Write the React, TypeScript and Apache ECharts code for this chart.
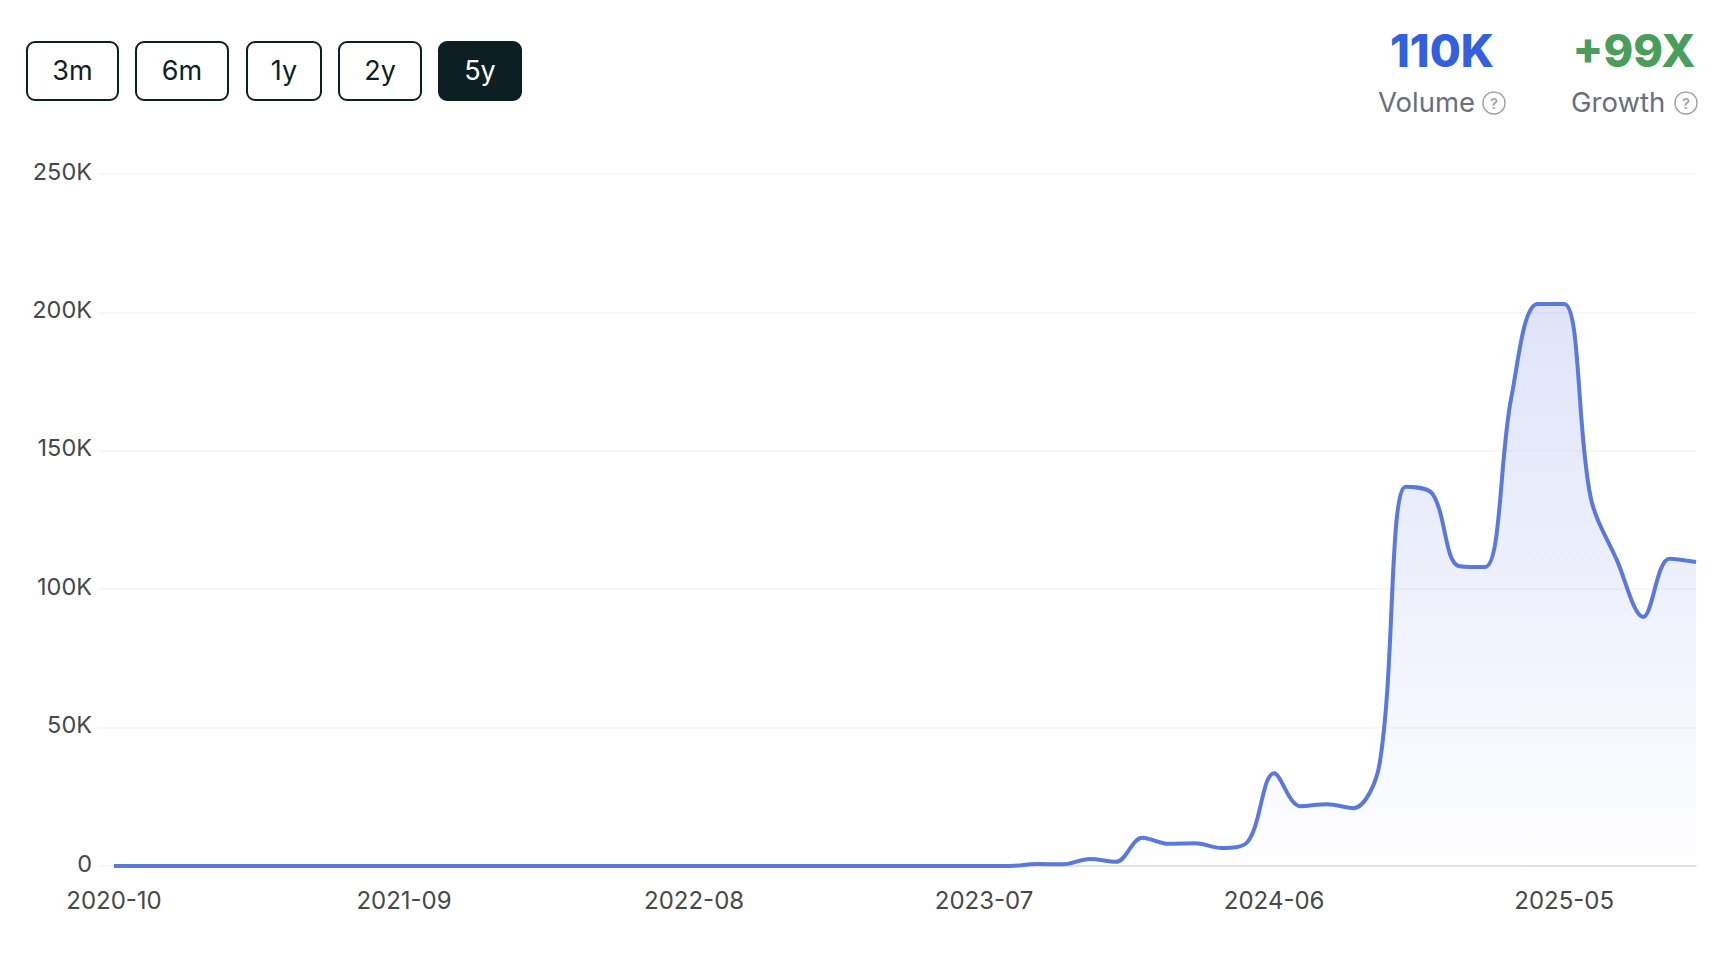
import React, { useEffect, useRef } from "react";
import * as echarts from "echarts";

const months: string[] = [
  "2020-10","2020-11","2020-12","2021-01","2021-02","2021-03","2021-04","2021-05","2021-06","2021-07","2021-08","2021-09",
  "2021-10","2021-11","2021-12","2022-01","2022-02","2022-03","2022-04","2022-05","2022-06","2022-07","2022-08","2022-09",
  "2022-10","2022-11","2022-12","2023-01","2023-02","2023-03","2023-04","2023-05","2023-06","2023-07","2023-08","2023-09",
  "2023-10","2023-11","2023-12","2024-01","2024-02","2024-03","2024-04","2024-05","2024-06","2024-07","2024-08","2024-09",
  "2024-10","2024-11","2024-12","2025-01","2025-02","2025-03","2025-04","2025-05","2025-06","2025-07","2025-08","2025-09","2025-10",
];
const volume: number[] = [
  0,0,0,0,0,0,0,0,0,0,0,0,
  0,0,0,0,0,0,0,0,0,0,0,0,
  0,0,0,0,0,0,0,0,0,0,0,700,
  600,2500,1500,10200,8000,8200,6500,8800,33500,21600,22300,20900,
  37000,137000,134500,108400,108000,169500,203000,203000,133400,110500,90000,111000,109800,
];
const rangeButtons = ["3m", "6m", "1y", "2y", "5y"];
const activeRange = "5y";
const stats = [
  { value: "110K", label: "Volume", color: "#3360dc" },
  { value: "+99X", label: "Growth", color: "#4a9d5b" },
];

const FONT = "Inter, 'Noto Sans', sans-serif";
const DARK = "#0d1f22";
const btnBox = [
  { x: 27, w: 91 }, { x: 136, w: 92 }, { x: 247, w: 74 }, { x: 339, w: 82 }, { x: 439, w: 82 },
];
const statBox = [
  { cx: 1442, lx: 1378, q: 1494 },
  { cx: 1634, lx: 1571, q: 1686 },
];

export default function App() {
  const ref = useRef<HTMLDivElement>(null);
  useEffect(() => {
    const chart = echarts.init(ref.current!, undefined, { renderer: "svg" });
    const graphic: any[] = [];
    rangeButtons.forEach((b, i) => {
      const on = b === activeRange;
      graphic.push({
        type: "rect",
        shape: { x: btnBox[i].x, y: 42, width: btnBox[i].w, height: 58, r: 8 },
        style: { fill: on ? DARK : "#fff", stroke: DARK, lineWidth: 2 },
      });
      graphic.push({
        type: "text",
        x: btnBox[i].x + btnBox[i].w / 2,
        y: 70,
        style: { text: b, fill: on ? "#fff" : DARK, font: `400 27px ${FONT}`, textAlign: "center", textVerticalAlign: "middle" },
      });
    });
    stats.forEach((s, i) => {
      graphic.push({
        type: "text", x: statBox[i].cx, y: 50,
        style: { text: s.value, fill: s.color, font: `800 45px ${FONT}`, textAlign: "center", textVerticalAlign: "middle" },
      });
      graphic.push({
        type: "text", x: statBox[i].lx, y: 102,
        style: { text: s.label, fill: "#6b6e7b", font: `400 27.5px ${FONT}`, textAlign: "left", textVerticalAlign: "middle" },
      });
      graphic.push({
        type: "circle", shape: { cx: statBox[i].q, cy: 103, r: 11 },
        style: { fill: "none", stroke: "#a0a1a6", lineWidth: 1.5 },
      });
      graphic.push({
        type: "text", x: statBox[i].q, y: 103,
        style: { text: "?", fill: "#a0a1a6", font: `500 15px ${FONT}`, textAlign: "center", textVerticalAlign: "middle" },
      });
    });

    chart.setOption({
      animation: false,
      backgroundColor: "#fff",
      grid: [
        { left: 98, right: 20, top: 174, bottom: 88 },
        { left: 114, right: 20, top: 174, bottom: 88 },
      ],
      xAxis: [
        { gridIndex: 0, type: "value", min: 0, max: 1, show: false },
        {
          gridIndex: 1, type: "category", data: months, boundaryGap: false,
          axisLine: { show: true, lineStyle: { color: "#dcdcdc", width: 1.5 } },
          axisTick: { show: false },
          axisLabel: { interval: 10, margin: 22, color: "#484848", fontFamily: FONT, fontSize: 24, hideOverlap: false },
        },
      ],
      yAxis: [
        {
          gridIndex: 0, type: "value", min: 0, max: 250000, interval: 50000,
          axisLine: { show: false }, axisTick: { show: false },
          splitLine: { show: true, lineStyle: { color: "#f5f5f6", width: 1.5 } },
          axisLabel: {
            margin: 6, color: "#484848", fontFamily: FONT, fontSize: 23.5, verticalAlign: "bottom", lineHeight: 6,
            formatter: (v: number) => (v === 0 ? "0" : `${v / 1000}K`),
          },
        },
        { gridIndex: 1, type: "value", min: 0, max: 250000, show: false },
      ],
      series: [
        {
          type: "line", xAxisIndex: 1, yAxisIndex: 1, data: volume, smooth: 0.35, showSymbol: false,
          lineStyle: { color: "#5b78dc", width: 4 },
          itemStyle: { color: "#5b78dc" },
          areaStyle: {
            color: new echarts.graphic.LinearGradient(0, 0, 0, 1, [
              { offset: 0, color: "rgba(75,105,220,0.26)" },
              { offset: 1, color: "rgba(75,105,220,0.01)" },
            ]),
          },
        },
      ],
      graphic,
    });
    return () => chart.dispose();
  }, []);
  return <div ref={ref} style={{ position: "absolute", left: 0, top: 0, width: 1716, height: 954 }} />;
}
